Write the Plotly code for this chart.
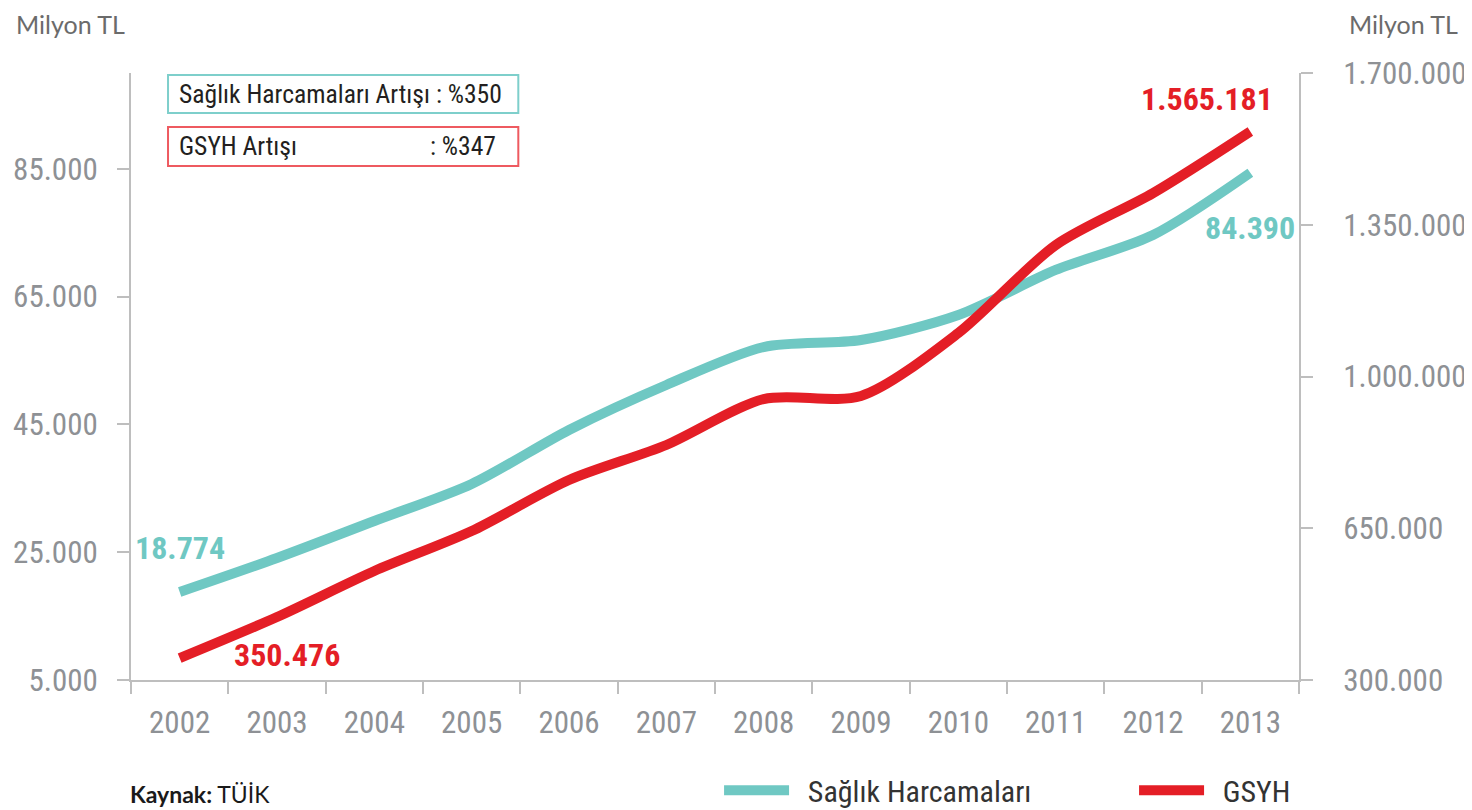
import plotly.graph_objects as go

# ---- data ----
years = [2002, 2003, 2004, 2005, 2006, 2007,
         2008, 2009, 2010, 2011, 2012, 2013]
saglik = [18774, 24090, 29880, 35670, 44130, 51170,
          57110, 58210, 62120, 69170, 74640, 84390]
gsyh = [350476, 445300, 551400, 643600, 761200, 842000,
        948000, 955000, 1100200, 1303100, 1423000, 1565181]
left_ticks = [5000, 25000, 45000, 65000, 85000]
right_ticks = [300000, 650000, 1000000, 1350000, 1700000]
left_range = [5000, 100000]
right_range = [300000, 1700000]

TEAL = "#6FC8C3"
RED = "#E41E26"
AX = "#BEBEBE"
NARROW = "Liberation Sans Narrow, Arial Narrow, Roboto Condensed, Roboto, sans-serif"
TICKFONT = dict(family=NARROW, size=31, color="#8E9195")
NBSP = "\u00a0"


def fmt(v):
    return f"{v:,}".replace(",", ".")


fig = go.Figure()
fig.add_trace(go.Scatter(
    x=years, y=saglik, name=NBSP * 2 + "Sağlık Harcamaları", mode="lines",
    line=dict(color=TEAL, width=10, shape="spline", smoothing=0.8),
    yaxis="y"))
fig.add_trace(go.Scatter(
    x=years, y=gsyh, name=NBSP * 2 + "GSYH", mode="lines",
    line=dict(color=RED, width=10, shape="spline", smoothing=0.8),
    yaxis="y2"))

axis_common = dict(showline=True, linecolor=AX, linewidth=2, showgrid=False,
                   zeroline=False, tickfont=TICKFONT, automargin=False)

# page body adds an 8px offset; the figure is sized to fill the remaining window
fig.update_layout(
    width=1464, height=802,
    margin=dict(l=123, r=173, t=65, b=130, autoexpand=False),
    paper_bgcolor="white", plot_bgcolor="white",
    separators=",.",
    xaxis=dict(range=[years[0] - 0.5, years[-1] + 0.5], tickmode="linear",
               tick0=years[0], dtick=1, ticks="", ticklabelstandoff=14,
               minor=dict(tick0=years[0] - 0.5, dtick=1, ticks="outside",
                          ticklen=12, tickwidth=2, tickcolor=AX, showgrid=False),
               **axis_common),
    yaxis=dict(range=left_range, tickvals=left_ticks, tickformat=",d",
               ticks="outside", ticklen=12, tickwidth=2, tickcolor=AX,
               ticklabelstandoff=13, **axis_common),
    yaxis2=dict(range=right_range, tickvals=right_ticks, tickformat=",d",
                overlaying="y", side="right", anchor="x",
                ticks="outside", ticklen=12, tickwidth=2, tickcolor=AX,
                ticklabelstandoff=24, **axis_common),
    showlegend=True,
    legend=dict(orientation="h", xref="container", yref="container",
                x=0.4857, xanchor="left", y=0.0245, yanchor="middle",
                font=dict(family=NARROW, size=30, color="#333333"),
                itemwidth=65, entrywidth=335, bgcolor="rgba(0,0,0,0)"),
)

# value labels at the first / last points
lab = dict(family=NARROW, size=32, weight="bold")
fig.add_annotation(x=years[0], y=saglik[0], yref="y", text=fmt(saglik[0]),
                   showarrow=False, xanchor="center", yanchor="middle", yshift=44,
                   font=dict(color=TEAL, **lab))
fig.add_annotation(x=years[0], y=gsyh[0], yref="y2", text=fmt(gsyh[0]),
                   showarrow=False, xanchor="center", yanchor="middle", xshift=107, yshift=3,
                   font=dict(color=RED, **lab))
fig.add_annotation(x=years[-1], y=gsyh[-1], yref="y2", text=fmt(gsyh[-1]),
                   showarrow=False, xanchor="center", yanchor="middle", xshift=-43, yshift=32,
                   font=dict(color=RED, **lab))
fig.add_annotation(x=years[-1], y=saglik[-1], yref="y", text=fmt(saglik[-1]),
                   showarrow=False, xanchor="center", yanchor="middle", xshift=0, yshift=-55,
                   font=dict(color=TEAL, **lab))

# info boxes
fig.add_shape(type="rect", xref="paper", yref="paper", x0=0.0317, x1=0.3316, y0=0.934, y1=0.9967,
              line=dict(color="#7ECFCB", width=2), fillcolor="white")
fig.add_shape(type="rect", xref="paper", yref="paper", x0=0.0317, x1=0.3316, y0=0.8468, y1=0.911,
              line=dict(color="#EE5A60", width=2), fillcolor="white")
boxfont = dict(family=NARROW, size=25.6, color="#231F20")
fig.add_annotation(xref="paper", yref="paper", x=0.0394, y=0.9654, xanchor="left", yanchor="middle",
                   text="Sağlık Harcamaları Artışı : %350", showarrow=False, font=boxfont)
fig.add_annotation(xref="paper", yref="paper", x=0.0394, y=0.8797, xanchor="left", yanchor="middle",
                   text="GSYH Artışı", showarrow=False, font=boxfont)
fig.add_annotation(xref="paper", yref="paper", x=0.2545, y=0.8797, xanchor="left", yanchor="middle",
                   text=": %347", showarrow=False, font=boxfont)

# unit labels
unitfont = dict(family="Lato, Open Sans, sans-serif", size=25, color="#6B6B6B")
fig.add_annotation(xref="paper", yref="paper", x=-0.0994, y=1.107, xanchor="left", yanchor="top",
                   borderpad=0, text="Milyon TL", showarrow=False, font=unitfont)
fig.add_annotation(xref="paper", yref="paper", x=1.137, y=1.107, xanchor="right", yanchor="top",
                   borderpad=0, text="Milyon TL", showarrow=False, font=unitfont)

# source
fig.add_annotation(xref="paper", yref="paper", x=-0.0026, y=-0.1878, xanchor="left", yanchor="middle",
                   text="<b>Kaynak:</b> TÜİK", showarrow=False,
                   font=dict(family="Lato, Open Sans, sans-serif", size=23, color="#1A1A1A"))

fig.write_html("out.html")
